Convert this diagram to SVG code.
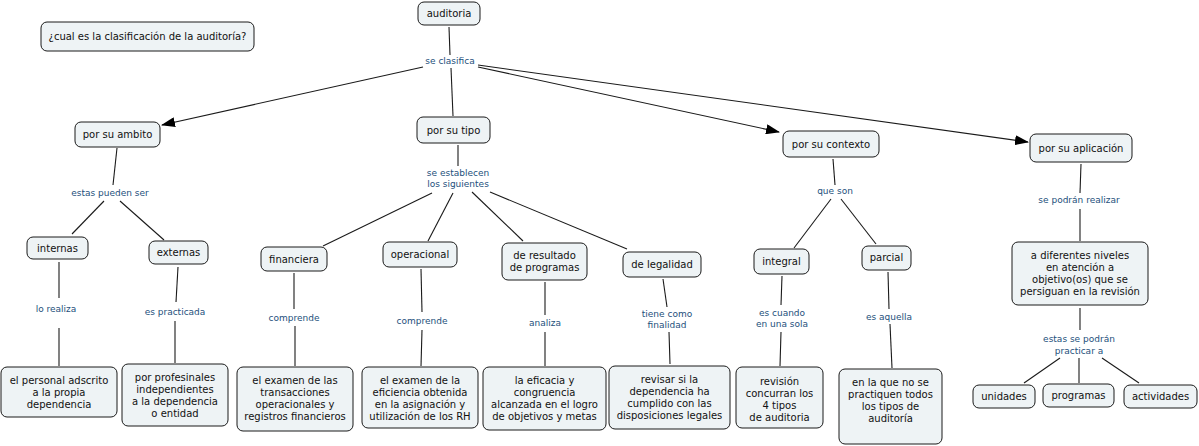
<svg xmlns="http://www.w3.org/2000/svg" width="1199" height="446" viewBox="0 0 1199 446">
<style>
.n rect{fill:#eef3f5;stroke:#1a1a1a;stroke-width:1}
.n text{font-family:"DejaVu Sans",Verdana,sans-serif;font-size:10px;fill:#111;text-anchor:middle}
.lb{font-family:"DejaVu Sans",Verdana,sans-serif;font-size:9px;fill:#24507c;text-anchor:middle}
#connectors line{stroke:#1a1a1a;stroke-width:1.1}
</style>
<defs>
<marker id="ah" markerUnits="userSpaceOnUse" markerWidth="14" markerHeight="10" refX="13" refY="5" orient="auto">
<path d="M0,0 L14,5 L0,10 z" fill="#000"/>
</marker>
</defs>
<rect width="1199" height="446" fill="#fff"/>
<g id="connectors">
<line x1="449" y1="27" x2="450" y2="55"/>
<line x1="451" y1="68" x2="453" y2="116"/>
<line x1="423" y1="67" x2="162" y2="125" marker-end="url(#ah)"/>
<line x1="478" y1="67" x2="779" y2="132" marker-end="url(#ah)"/>
<line x1="478" y1="65" x2="1028" y2="142" marker-end="url(#ah)"/>
<line x1="117" y1="148" x2="113" y2="185"/>
<line x1="104" y1="201" x2="72" y2="234"/>
<line x1="120" y1="201" x2="164" y2="240"/>
<line x1="458" y1="145" x2="458" y2="166"/>
<line x1="432" y1="193" x2="323" y2="246"/>
<line x1="453" y1="193" x2="428" y2="241"/>
<line x1="472" y1="192" x2="523" y2="241"/>
<line x1="490" y1="192" x2="627" y2="249"/>
<line x1="833" y1="159" x2="835" y2="185"/>
<line x1="831" y1="199" x2="794" y2="248"/>
<line x1="841" y1="199" x2="876" y2="244"/>
<line x1="1081" y1="164" x2="1080" y2="193"/>
<line x1="1080" y1="209" x2="1080" y2="241"/>
<line x1="59" y1="262" x2="59" y2="298"/>
<line x1="59" y1="328" x2="59" y2="366"/>
<line x1="178" y1="267" x2="176" y2="302"/>
<line x1="175" y1="321" x2="175" y2="363"/>
<line x1="294" y1="273" x2="294" y2="309"/>
<line x1="295" y1="326" x2="295" y2="366"/>
<line x1="421" y1="269" x2="422" y2="312"/>
<line x1="422" y1="330" x2="421" y2="366"/>
<line x1="545" y1="282" x2="545" y2="315"/>
<line x1="545" y1="332" x2="545" y2="366"/>
<line x1="663" y1="279" x2="667" y2="307"/>
<line x1="669" y1="332" x2="670" y2="364"/>
<line x1="782" y1="276" x2="781" y2="305"/>
<line x1="781" y1="332" x2="780" y2="366"/>
<line x1="888" y1="272" x2="889" y2="309"/>
<line x1="890" y1="324" x2="892" y2="368"/>
<line x1="1080" y1="308" x2="1080" y2="330"/>
<line x1="1060" y1="358" x2="1024" y2="383"/>
<line x1="1079" y1="358" x2="1079" y2="383"/>
<line x1="1102" y1="358" x2="1139" y2="383"/>
</g>
<g id="link-labels">
<text class="lb" x="450" y="64">se clasifica</text>
<text class="lb" x="110" y="196">estas pueden ser</text>
<text class="lb" x="458" y="176">se establecen</text>
<text class="lb" x="458" y="187">los siguientes</text>
<text class="lb" x="835" y="194">que son</text>
<text class="lb" x="1079" y="203">se podrán realizar</text>
<text class="lb" x="56" y="312">lo realiza</text>
<text class="lb" x="175" y="315">es practicada</text>
<text class="lb" x="294" y="321">comprende</text>
<text class="lb" x="422" y="324">comprende</text>
<text class="lb" x="545" y="326">analiza</text>
<text class="lb" x="667" y="317">tiene como</text>
<text class="lb" x="667" y="328">finalidad</text>
<text class="lb" x="782" y="316">es cuando</text>
<text class="lb" x="782" y="327">en una sola</text>
<text class="lb" x="889" y="320">es aquella</text>
<text class="lb" x="1079" y="342">estas se podrán</text>
<text class="lb" x="1079" y="354">practicar a</text>
</g>
<g id="n-auditoria" class="n"><rect x="418" y="2" width="62" height="23" rx="6"/><text x="449" y="17">auditoria</text></g>
<g id="n-pregunta" class="n"><rect x="41" y="22" width="213" height="29" rx="6"/><text x="147.5" y="40">¿cual es la clasificación de la auditoría?</text></g>
<g id="n-ambito" class="n"><rect x="75" y="122" width="85" height="25" rx="6"/><text x="117.5" y="138">por su ambito</text></g>
<g id="n-tipo" class="n"><rect x="417" y="117" width="73" height="26" rx="6"/><text x="453.5" y="134">por su tipo</text></g>
<g id="n-contexto" class="n"><rect x="783" y="131" width="96" height="26" rx="6"/><text x="831" y="148">por su contexto</text></g>
<g id="n-aplicacion" class="n"><rect x="1030" y="134" width="102" height="28" rx="6"/><text x="1081" y="152">por su aplicación</text></g>
<g id="n-internas" class="n"><rect x="27" y="237" width="61" height="22" rx="6"/><text x="57.5" y="252">internas</text></g>
<g id="n-externas" class="n"><rect x="149" y="241" width="59" height="23" rx="6"/><text x="178.5" y="256">externas</text></g>
<g id="n-financiera" class="n"><rect x="261" y="247" width="66" height="24" rx="6"/><text x="294" y="263">financiera</text></g>
<g id="n-operacional" class="n"><rect x="383" y="242" width="74" height="25" rx="6"/><text x="420" y="258">operacional</text></g>
<g id="n-resultado" class="n"><rect x="502" y="243" width="85" height="37" rx="6"/><text x="544.5" y="259">de resultado</text><text x="544.5" y="271">de programas</text></g>
<g id="n-legalidad" class="n"><rect x="623" y="252" width="78" height="25" rx="6"/><text x="662" y="268">de legalidad</text></g>
<g id="n-integral" class="n"><rect x="754" y="249" width="55" height="25" rx="6"/><text x="781.5" y="265">integral</text></g>
<g id="n-parcial" class="n"><rect x="862" y="246" width="49" height="24" rx="6"/><text x="886.5" y="261">parcial</text></g>
<g id="n-niveles" class="n"><rect x="1012" y="242" width="136" height="63" rx="6"/><text x="1080" y="259">a diferentes niveles</text><text x="1080" y="271">en atención a</text><text x="1080" y="283">objetivo(os) que se</text><text x="1080" y="295">persiguan en la revisión</text></g>
<g id="n-unidades" class="n"><rect x="973" y="385" width="62" height="23" rx="6"/><text x="1004" y="400">unidades</text></g>
<g id="n-programas" class="n"><rect x="1043" y="384" width="71" height="23" rx="6"/><text x="1078.5" y="399">programas</text></g>
<g id="n-actividades" class="n"><rect x="1124" y="385" width="73" height="23" rx="6"/><text x="1160.5" y="400">actividades</text></g>
<g id="n-personal" class="n"><rect x="1" y="367" width="116" height="50" rx="6"/><text x="59" y="384">el personal adscrito</text><text x="59" y="396">a la propia</text><text x="59" y="408">dependencia</text></g>
<g id="n-profesinales" class="n"><rect x="122" y="364" width="106" height="62" rx="6"/><text x="175" y="381">por profesinales</text><text x="175" y="393">independientes</text><text x="175" y="405">a la dependencia</text><text x="175" y="417">o entidad</text></g>
<g id="n-examen1" class="n"><rect x="237" y="367" width="116" height="64" rx="6"/><text x="295" y="384">el examen de las</text><text x="295" y="396">transacciones</text><text x="295" y="408">operacionales y</text><text x="295" y="420">registros financieros</text></g>
<g id="n-examen2" class="n"><rect x="362" y="367" width="116" height="61" rx="6"/><text x="420" y="384">el examen de la</text><text x="420" y="396">eficiencia obtenida</text><text x="420" y="408">en la asignación y</text><text x="420" y="420">utilización de los RH</text></g>
<g id="n-eficacia" class="n"><rect x="483" y="367" width="123" height="63" rx="6"/><text x="544.5" y="384">la eficacia y</text><text x="544.5" y="396">congruencia</text><text x="544.5" y="408">alcanzada en el logro</text><text x="544.5" y="420">de objetivos y metas</text></g>
<g id="n-revisar" class="n"><rect x="609" y="366" width="121" height="63" rx="6"/><text x="669.5" y="383">revisar si la</text><text x="669.5" y="395">dependencia ha</text><text x="669.5" y="407">cumplido con las</text><text x="669.5" y="419">disposiciones legales</text></g>
<g id="n-revision" class="n"><rect x="736" y="367" width="87" height="61" rx="6"/><text x="779.5" y="385">revisión</text><text x="779.5" y="397">concurran los</text><text x="779.5" y="409">4 tipos</text><text x="779.5" y="421">de auditoria</text></g>
<g id="n-enlaque" class="n"><rect x="839" y="369" width="103" height="75" rx="6"/><text x="890.5" y="386">en la que no se</text><text x="890.5" y="398">practiquen todos</text><text x="890.5" y="410">los tipos de</text><text x="890.5" y="422">auditoría</text></g>
</svg>
